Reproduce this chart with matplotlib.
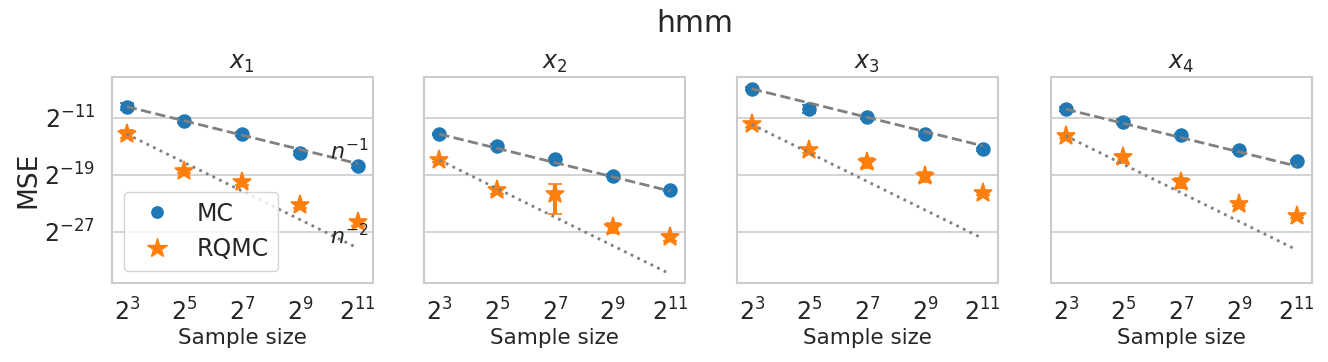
import matplotlib
matplotlib.use("Agg")
import matplotlib.pyplot as plt
import numpy as np
from matplotlib.lines import Line2D

# ── Data (log2 of MSE) ───────────────────────────────────────────────────────
sample_sizes = [8, 32, 128, 512, 2048]
titles = ["$x_1$", "$x_2$", "$x_3$", "$x_4$"]

mc_x1 = [-9.45, -11.4, -13.3, -16.0, -17.75]
mc_x2 = [-13.3, -14.95, -16.85, -19.15, -21.15]
mc_x3 = [-6.95, -9.8, -10.95, -13.3, -15.45]
mc_x4 = [-9.8, -11.55, -13.5, -15.55, -17.15]

rqmc_x1 = [-13.3, -18.5, -20.0, -23.25, -25.7]
rqmc_x2 = [-16.95, -21.15, -21.65, -26.35, -27.75]
rqmc_x3 = [-11.95, -15.5, -17.2, -19.15, -21.6]
rqmc_x4 = [-13.55, -16.55, -20.0, -23.1, -24.75]

# error half-widths in log2 units (lower, upper)
mc_err_x1 = [0.5, 0.3, 0.3, 0.3, 0.3]
mc_err_x2 = [0.2, 0.2, 0.2, 0.2, 0.2]
mc_err_x3 = [0.2, 0.6, 0.2, 0.3, 0.2]
mc_err_x4 = [0.3, 0.3, 0.2, 0.2, 0.2]

rqmc_lo_x1 = [0.5, 0.3, 0.5, 0.4, 0.5]
rqmc_hi_x1 = [0.5, 0.3, 0.3, 0.3, 0.3]
rqmc_lo_x2 = [0.3, 0.6, 2.9, 0.9, 0.6]
rqmc_hi_x2 = [0.3, 0.3, 1.4, 0.5, 0.4]
rqmc_lo_x3 = [0.4, 0.5, 0.9, 0.9, 0.2]
rqmc_hi_x3 = [0.3, 0.3, 0.5, 0.5, 0.2]
rqmc_lo_x4 = [0.3, 0.8, 0.8, 0.3, 0.3]
rqmc_hi_x4 = [0.3, 0.5, 0.5, 0.3, 0.3]

mc_all = [mc_x1, mc_x2, mc_x3, mc_x4]
mc_err_all = [mc_err_x1, mc_err_x2, mc_err_x3, mc_err_x4]
rqmc_all = [rqmc_x1, rqmc_x2, rqmc_x3, rqmc_x4]
rqmc_lo_all = [rqmc_lo_x1, rqmc_lo_x2, rqmc_lo_x3, rqmc_lo_x4]
rqmc_hi_all = [rqmc_hi_x1, rqmc_hi_x2, rqmc_hi_x3, rqmc_hi_x4]

MC_COLOR = "#1f77b4"
RQMC_COLOR = "#ff7f0e"
TEXT = "#262626"

plt.rcParams.update({
    "font.family": "DejaVu Sans",
    "text.color": TEXT,
    "axes.labelcolor": TEXT,
    "xtick.color": TEXT,
    "ytick.color": TEXT,
    "axes.edgecolor": "#cccccc",
})


def errbar(ax, y, lo, hi, color, marker, ms):
    y = np.asarray(y)
    v = 2.0 ** y
    lower = v - 2.0 ** (y - np.asarray(lo))
    upper = 2.0 ** (y + np.asarray(hi)) - v
    ax.errorbar(sample_sizes, v, yerr=[lower, upper], fmt=marker, color=color,
                ms=ms, elinewidth=3, capsize=5, capthick=3,
                markeredgewidth=1.2, markeredgecolor=color, zorder=3)


fig = plt.figure(figsize=(13.28, 3.62), dpi=100)
lefts = [111.7, 424.3, 736.7, 1050.7]
W, H = 1328.0, 362.0
n = np.array(sample_sizes, dtype=float)

for i, left in enumerate(lefts):
    ax = fig.add_axes([left / W, 1 - 282.7 / H, 261 / W, 206 / H])
    ax.set_xscale("log", base=2)
    ax.set_yscale("log", base=2)

    errbar(ax, mc_all[i], mc_err_all[i], mc_err_all[i], MC_COLOR, "o", 9.2)
    errbar(ax, rqmc_all[i], rqmc_lo_all[i], rqmc_hi_all[i], RQMC_COLOR, "*", 14)

    # reference rates anchored at the first point
    ref1 = 2.0 ** mc_all[i][0] * (n / n[0]) ** -1
    ref2 = 2.0 ** rqmc_all[i][0] * (n / n[0]) ** -2
    ax.plot(n, ref1, "--", color="grey", lw=2, zorder=4)
    ax.plot(n, ref2, ":", color="grey", lw=2, zorder=4)

    ax.set_xlim(2 ** 2.48, 2 ** 11.52)
    ax.set_ylim(2 ** -34.16, 2 ** -5.25)
    ax.set_xticks(sample_sizes)
    ax.set_xticklabels([r"$\mathdefault{2^{%d}}$" % k for k in [3, 5, 7, 9, 11]])
    ax.set_yticks([2.0 ** -11, 2.0 ** -19, 2.0 ** -27])
    ax.minorticks_off()
    if i == 0:
        ax.set_yticklabels([r"$\mathdefault{2^{-%d}}$" % k for k in [11, 19, 27]])
        ax.set_ylabel("MSE", fontsize=19, labelpad=2)
    else:
        ax.set_yticklabels([])
    ax.tick_params(axis="x", length=0, labelsize=17, pad=11)
    ax.tick_params(axis="y", length=0, labelsize=17, pad=12)
    ax.grid(axis="y", color="#cccccc", lw=1.2)
    ax.set_axisbelow(True)
    for sp in ax.spines.values():
        sp.set_linewidth(1.5)
    ax.set_xlabel("Sample size", fontsize=15.5, labelpad=2)
    ax.set_title(titles[i], fontsize=17)

    if i == 0:
        ax.text(2 ** 10.72, ref1[-1], "$n^{-1}$", fontsize=16,
                ha="center", va="bottom", zorder=5)
        ax.text(2 ** 10.72, ref2[-1], "$n^{-2}$", fontsize=16,
                ha="center", va="bottom", zorder=5)
        handles = [
            Line2D([], [], ls="", marker="o", color=MC_COLOR, ms=9.2, mew=0),
            Line2D([], [], ls="", marker="*", color=RQMC_COLOR, ms=15,
                   mew=1, mec=RQMC_COLOR),
        ]
        ax.legend(handles, ["MC", "RQMC"], loc="lower left", fontsize=17,
                  frameon=True, edgecolor="#cccccc", framealpha=0.8,
                  borderaxespad=0.5, handletextpad=0.7)

fig.suptitle("hmm", fontsize=21.5, x=0.523, y=0.975)
fig.savefig("out.png", dpi=100)
